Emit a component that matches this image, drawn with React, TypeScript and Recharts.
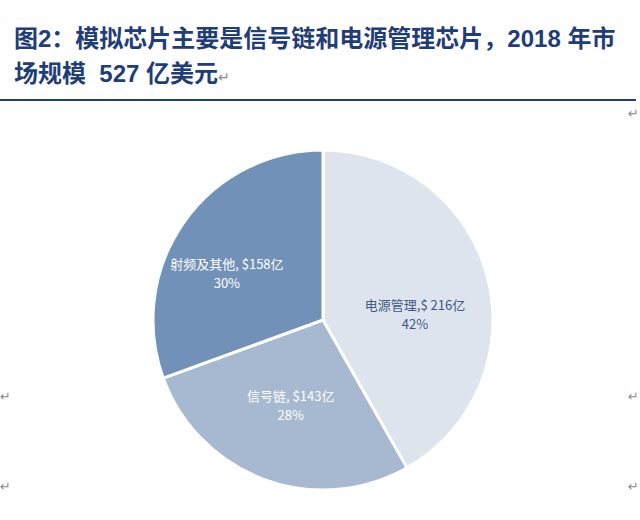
import { Cell, Pie, PieChart } from "recharts";

const categories = ["电源管理", "信号链", "射频及其他"];
const values = [216, 143, 158];
const amountLabels = ["$ 216亿", "$143亿", "$158亿"];
const separators = [",", ", ", ", "];
const percentLabels = ["42%", "28%", "30%"];

const COLORS = ["#dde4ee", "#a7b8d1", "#7191b9"];
const LABEL_COLORS = ["#3d5a85", "#ffffff", "#ffffff"];
// label radius (fraction of outer radius) and vertical nudge per slice
const LABEL_R = [0.56, 0.55, 0.69];
const LABEL_DY = [20, -1, 22];

const data = categories.map((name, i) => ({
  name,
  value: values[i],
  amount: amountLabels[i],
  sep: separators[i],
  pct: percentLabels[i],
}));

const RAD = Math.PI / 180;

function SliceLabel(props: any) {
  const { cx, cy, midAngle, outerRadius, index } = props;
  const r = outerRadius * LABEL_R[index];
  const x = cx + r * Math.cos(-midAngle * RAD);
  const y = cy + r * Math.sin(-midAngle * RAD) + LABEL_DY[index];
  const d = data[index];
  const common = {
    x,
    textAnchor: "middle" as const,
    fill: LABEL_COLORS[index],
    fontSize: 13,
    fontFamily: "'Noto Sans CJK SC', sans-serif",
  };
  return (
    <g>
      <text {...common} y={y - 6}>{`${d.name}${d.sep}${d.amount}`}</text>
      <text {...common} y={y + 13}>{d.pct}</text>
    </g>
  );
}

const mark = { position: "absolute" as const, color: "#8a8a8a", fontSize: 13, fontFamily: "'DejaVu Sans', sans-serif" };

export default function App() {
  return (
    <div style={{ position: "absolute", left: 0, top: 0, width: 640, height: 520, background: "#fff", overflow: "hidden" }}>
      <div
        style={{
          position: "absolute",
          left: 14,
          top: 21,
          width: 630,
          fontFamily: "'Liberation Sans', 'Noto Sans CJK SC', sans-serif",
          fontWeight: 700,
          fontSize: 24,
          lineHeight: "35px",
          color: "#1f3d78",
          whiteSpace: "nowrap",
        }}
      >
        <div>图2：模拟芯片主要是信号链和电源管理芯片，2018 年市</div>
        <div>
          场规模&nbsp; 527 亿美元
          <span style={{ fontWeight: 400, fontSize: 14, color: "#8a8a8a" }}>↵</span>
        </div>
      </div>
      <div style={{ position: "absolute", left: 0, top: 99, width: 636, height: 2, background: "#1f3d78" }} />
      <span style={{ ...mark, left: 628, top: 106 }}>↵</span>
      <span style={{ ...mark, left: 0, top: 389 }}>↵</span>
      <span style={{ ...mark, left: 0, top: 479 }}>↵</span>
      <span style={{ ...mark, left: 628, top: 389 }}>↵</span>
      <span style={{ ...mark, left: 628, top: 479 }}>↵</span>
      <div style={{ position: "absolute", left: 0, top: 0 }}>
        <PieChart width={640} height={520} margin={{ top: 0, right: 0, bottom: 0, left: 0 }}>
          <Pie
            data={data}
            dataKey="value"
            nameKey="name"
            cx={323}
            cy={320}
            outerRadius={170}
            startAngle={90}
            endAngle={-270}
            stroke="#ffffff"
            strokeWidth={3}
            label={SliceLabel}
            labelLine={false}
            isAnimationActive={false}
          >
            {data.map((d, i) => (
              <Cell key={d.name} fill={COLORS[i]} />
            ))}
          </Pie>
        </PieChart>
      </div>
    </div>
  );
}
